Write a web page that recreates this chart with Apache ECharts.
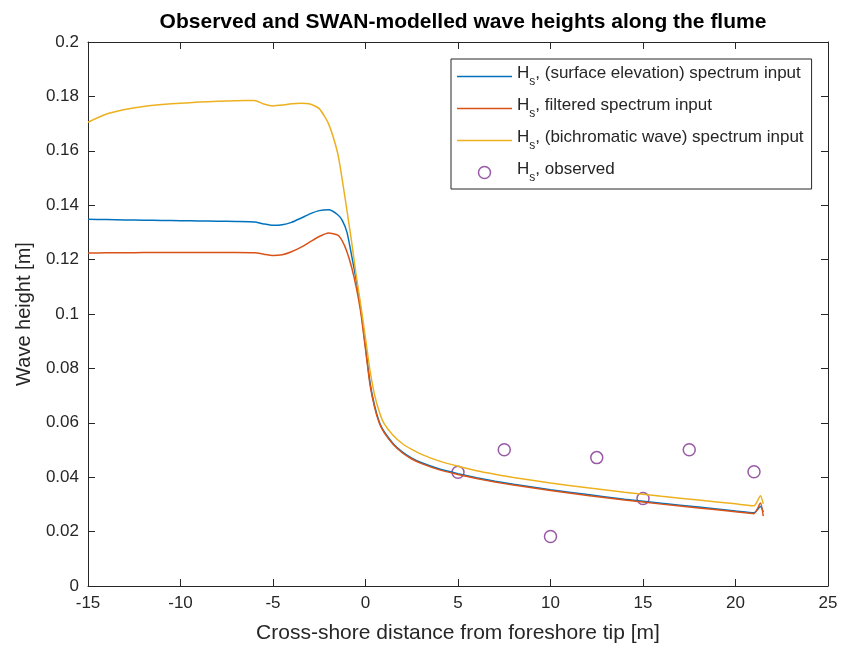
<!DOCTYPE html>
<html>
<head>
<meta charset="utf-8">
<script src="https://cdn.jsdelivr.net/npm/echarts@6/dist/echarts.min.js"></script>
<style>
html,body{margin:0;padding:0;background:#fff;}
#chart{width:841px;height:649px;}
</style>
</head>
<body>
<div id="chart"></div>
<script>
// Cross-shore distance [m]
const xs = [-15,-14,-13,-12,-11,-10,-9,-8,-7,-6,-5.5,-5,-4.5,-4,-3.5,-3,-2.5,-2,-1.5,
  -1.25,-1,-0.75,-0.5,-0.25,0,0.25,0.5,0.75,1,1.5,2,2.5,3,4,5,6,7,8,10,12,14,16,18,20,21,21.35,21.5];
// Hs, (surface elevation) spectrum input
const hsSurface = [0.1348,0.1347,0.1346,0.1345,0.1344,0.1343,0.1342,0.1341,0.1340,0.1338,
  0.1331,0.1326,0.1328,0.1337,0.1352,0.1368,0.1380,0.1383,0.1365,
  0.1343,0.1300,0.1215,0.1125,0.1015,0.0880,0.0745,0.0660,0.0602,0.0568,
  0.0523,0.0492,0.0470,0.0454,0.0430,0.0413,0.0398,0.0385,0.0374,
  0.0354,0.0336,0.0319,0.0304,0.0290,0.0276,0.0269,0.0292,0.0272];
// Hs, filtered spectrum input
const hsFiltered = [0.1224,0.1225,0.1225,0.1226,0.1226,0.1226,0.1226,0.1226,0.1226,0.1225,
  0.1220,0.1215,0.1218,0.1229,0.1245,0.1265,0.1285,0.1298,0.1290,
  0.1268,0.1228,0.1172,0.1098,0.1003,0.0870,0.0738,0.0655,0.0598,0.0565,
  0.0520,0.0489,0.0467,0.0451,0.0427,0.0410,0.0395,0.0382,0.0371,
  0.0351,0.0333,0.0316,0.0301,0.0287,0.0273,0.0266,0.0305,0.0257];
// Hs, (bichromatic wave) spectrum input
const hsBichromatic = [0.1705,0.1735,0.1752,0.1763,0.1770,0.1775,0.1779,0.1782,0.1784,0.1785,
  0.1772,0.1765,0.1768,0.1773,0.1775,0.1772,0.1755,0.1700,0.1590,
  0.1490,0.1380,0.1265,0.1140,0.1030,0.0910,0.0790,0.0700,0.0640,0.0598,
  0.0553,0.0523,0.0502,0.0485,0.0459,0.0440,0.0424,0.0411,0.0399,
  0.0379,0.0361,0.0345,0.0330,0.0316,0.0302,0.0295,0.0332,0.0302];
// Observed
const obsX = [5, 7.5, 10, 12.5, 15, 17.5, 21];
const obsHs = [0.0418, 0.0501, 0.0182, 0.0472, 0.0322, 0.0501, 0.0420];

const pairs = (a, b) => a.map((v, i) => [v, b[i]]);
const TXT = '#262626';
const FONT = '"Liberation Sans", Arial, Helvetica, sans-serif';

const labels = {
  surf: '{a|H}{s|s}{a|, (surface elevation) spectrum input}',
  filt: '{a|H}{s|s}{a|, filtered spectrum input}',
  bich: '{a|H}{s|s}{a|, (bichromatic wave) spectrum input}',
  obs: '{a|H}{s|s}{a|, observed}'
};

const lineSeries = (name, data, color) => ({
  name, type: 'line', data: pairs(xs, data), showSymbol: false, symbol: 'none',
  smooth: 0.2,
  lineStyle: { color, width: 1.5 }, itemStyle: { color }
});

const chart = echarts.init(document.getElementById('chart'), null, { renderer: 'canvas' });
const axisCommon = {
  axisLine: { show: true, onZero: false, lineStyle: { color: TXT, width: 1 } },
  axisTick: { show: true, inside: true, length: 7, lineStyle: { color: TXT } },
  splitLine: { show: false }
};
const LINE_ICON = 'path://M0,0H55V1.5H0Z';
chart.setOption({
  animation: false,
  backgroundColor: '#fff',
  textStyle: { fontFamily: FONT },
  title: {
    text: 'Observed and SWAN-modelled wave heights along the flume',
    left: 458, top: 7, textAlign: 'center',
    textStyle: { fontFamily: FONT, fontWeight: 'bold', fontSize: 21, color: '#000' }
  },
  grid: { left: 88, right: 13, top: 42, bottom: 60, containLabel: false },
  legend: {
    orient: 'vertical', left: 451, top: 59,
    itemWidth: 55, itemHeight: 12, itemGap: 9,
    padding: [6, 8, 5, 6],
    borderColor: TXT, borderWidth: 1, backgroundColor: '#fff',
    data: [
      { name: 'surf', icon: LINE_ICON }, { name: 'filt', icon: LINE_ICON }, { name: 'bich', icon: LINE_ICON },
      { name: 'obs', icon: 'circle', itemStyle: { color: 'transparent', borderColor: '#7E2F8E', borderWidth: 1.5 } }
    ],
    formatter: n => labels[n],
    textStyle: {
      fontFamily: FONT, color: TXT,
      rich: {
        a: { fontSize: 17, lineHeight: 17, padding: [0, 0, 6, 0], fontFamily: FONT, color: TXT },
        s: { fontSize: 12, lineHeight: 12, padding: [10, 0, 0, 0], fontFamily: FONT, color: TXT }
      }
    }
  },
  xAxis: [
    Object.assign({}, axisCommon, {
      type: 'value', min: -15, max: 25, interval: 5, position: 'bottom',
      name: 'Cross-shore distance from foreshore tip [m]', nameLocation: 'middle', nameGap: 37,
      nameTextStyle: { fontSize: 21, color: TXT, fontFamily: FONT },
      axisLabel: { fontSize: 17, color: TXT, margin: 9, fontFamily: FONT }
    }),
    Object.assign({}, axisCommon, {
      type: 'value', min: -15, max: 25, interval: 5, position: 'top',
      axisLabel: { show: false }
    })
  ],
  yAxis: [
    Object.assign({}, axisCommon, {
      type: 'value', min: 0, max: 0.2, interval: 0.02, position: 'left',
      name: 'Wave height [m]', nameLocation: 'middle', nameGap: 54,
      nameTextStyle: { fontSize: 20, color: TXT, fontFamily: FONT },
      axisLabel: { fontSize: 17, color: TXT, margin: 9, fontFamily: FONT,
        formatter: v => String(Math.round(v * 100) / 100) }
    }),
    Object.assign({}, axisCommon, {
      type: 'value', min: 0, max: 0.2, interval: 0.02, position: 'right',
      axisLabel: { show: false }
    })
  ],
  series: [
    lineSeries('surf', hsSurface, '#0072BD'),
    lineSeries('filt', hsFiltered, '#D95319'),
    lineSeries('bich', hsBichromatic, '#EDB120'),
    {
      name: 'obs', type: 'scatter', data: pairs(obsX, obsHs),
      symbol: 'circle', symbolSize: 12,
      itemStyle: { color: 'transparent', borderColor: '#7E2F8E', borderWidth: 1.5 }
    }
  ]
});
</script>
</body>
</html>
